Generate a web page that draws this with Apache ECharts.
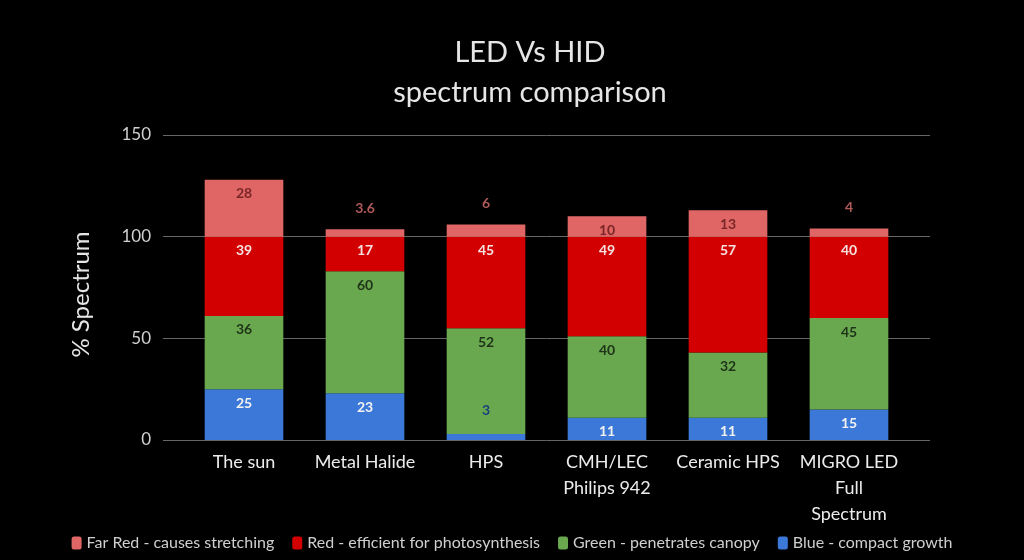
<!DOCTYPE html>
<html><head><meta charset="utf-8">
<script src="https://cdn.jsdelivr.net/npm/echarts@6/dist/echarts.min.js"></script>
<style>html,body{margin:0;padding:0;background:#000;}#c{width:1024px;height:560px;}</style>
</head><body><div id="c"></div>
<script>
const categories = ['The sun','Metal Halide','HPS','CMH/LEC\nPhilips 942','Ceramic HPS','MIGRO LED\nFull\nSpectrum'];
const blue    = [25, 23, 3, 11, 11, 15];
const green   = [36, 60, 52, 40, 32, 45];
const red     = [39, 17, 45, 49, 57, 40];
const farRed  = [28, 3.6, 6, 10, 13, 4];
const yTicks  = [0, 50, 100, 150];

const FONT = 'Lato, "Liberation Sans", sans-serif';
const chart = echarts.init(document.getElementById('c'));

function mkData(vals, smallRule) {
  return vals.map((v, i) => {
    const o = { value: v };
    if (smallRule) { const l = smallRule(v, i); if (l) o.label = l; }
    return o;
  });
}

const lbl = (color) => ({ show: true, position: 'insideTop', distance: 7, color: color, fontSize: 14, fontWeight: 'bold', fontFamily: FONT });

chart.setOption({
  backgroundColor: '#000',
  animation: false,
  title: {
    text: 'LED Vs HID\nspectrum comparison',
    left: 525, top: 28, textAlign: 'center',
    textStyle: { color: '#e6e6e6', fontSize: 29, fontWeight: 'normal', fontFamily: FONT, lineHeight: 40 }
  },
  legend: {
    bottom: 4, left: 'center',
    itemWidth: 10, itemHeight: 13, itemGap: 18,
    textStyle: { color: '#cfcfcf', fontSize: 16, fontFamily: FONT },
    data: ['Far Red - causes stretching', 'Red - efficient for photosynthesis', 'Green - penetrates canopy', 'Blue - compact growth']
  },
  grid: [
    { left: 163, right: 94, top: 135, bottom: 120 },
    { left: 183.5, right: 114.5, top: 135, bottom: 120 }
  ],
  xAxis: [
    { type: 'value', gridIndex: 0, show: false, min: 0, max: 1 },
    { type: 'category', gridIndex: 1, data: categories,
      axisLine: { show: false }, axisTick: { show: false },
      axisLabel: { color: '#ececec', fontSize: 18, fontFamily: FONT, lineHeight: 26, margin: 9, interval: 0 } }
  ],
  yAxis: [
    { type: 'value', gridIndex: 0, min: yTicks[0], max: yTicks[yTicks.length-1], interval: 50,
      name: '% Spectrum', nameLocation: 'middle', nameGap: 70,
      nameTextStyle: { color: '#e6e6e6', fontSize: 24, fontFamily: FONT, padding: [0, 14, 0, 0] },
      axisLine: { show: false }, axisTick: { show: false },
      axisLabel: { color: '#d0d0d0', fontSize: 17, fontFamily: FONT, margin: 12 },
      splitLine: { lineStyle: { color: '#666', width: 1 } } },
    { type: 'value', gridIndex: 1, min: 0, max: 150, show: false, splitLine: { show: false } }
  ],
  series: [
    { name: 'Blue - compact growth', type: 'bar', stack: 's', xAxisIndex: 1, yAxisIndex: 1,
      barCategoryGap: '35%', itemStyle: { color: '#3c78d8' }, label: lbl('#f2f2f2'),
      data: mkData(blue, (v) => v < 5 ? { show: true, position: 'top', distance: 16, color: '#1c3f7a', fontSize: 14, fontWeight: 'bold' } : null) },
    { name: 'Green - penetrates canopy', type: 'bar', stack: 's', xAxisIndex: 1, yAxisIndex: 1,
      itemStyle: { color: '#6aa84f' }, label: lbl('#1e3318'), data: mkData(green) },
    { name: 'Red - efficient for photosynthesis', type: 'bar', stack: 's', xAxisIndex: 1, yAxisIndex: 1,
      itemStyle: { color: '#d20000' }, label: lbl('#f6e0e0'), data: mkData(red) },
    { name: 'Far Red - causes stretching', type: 'bar', stack: 's', xAxisIndex: 1, yAxisIndex: 1,
      itemStyle: { color: '#e06666' }, label: lbl('#7a2626'),
      data: mkData(farRed, (v) => v < 8 ? { show: true, position: 'top', distance: 14, color: '#b05a5a', fontSize: 14, fontWeight: 'bold' } : null) }
  ]
});
</script></body></html>
